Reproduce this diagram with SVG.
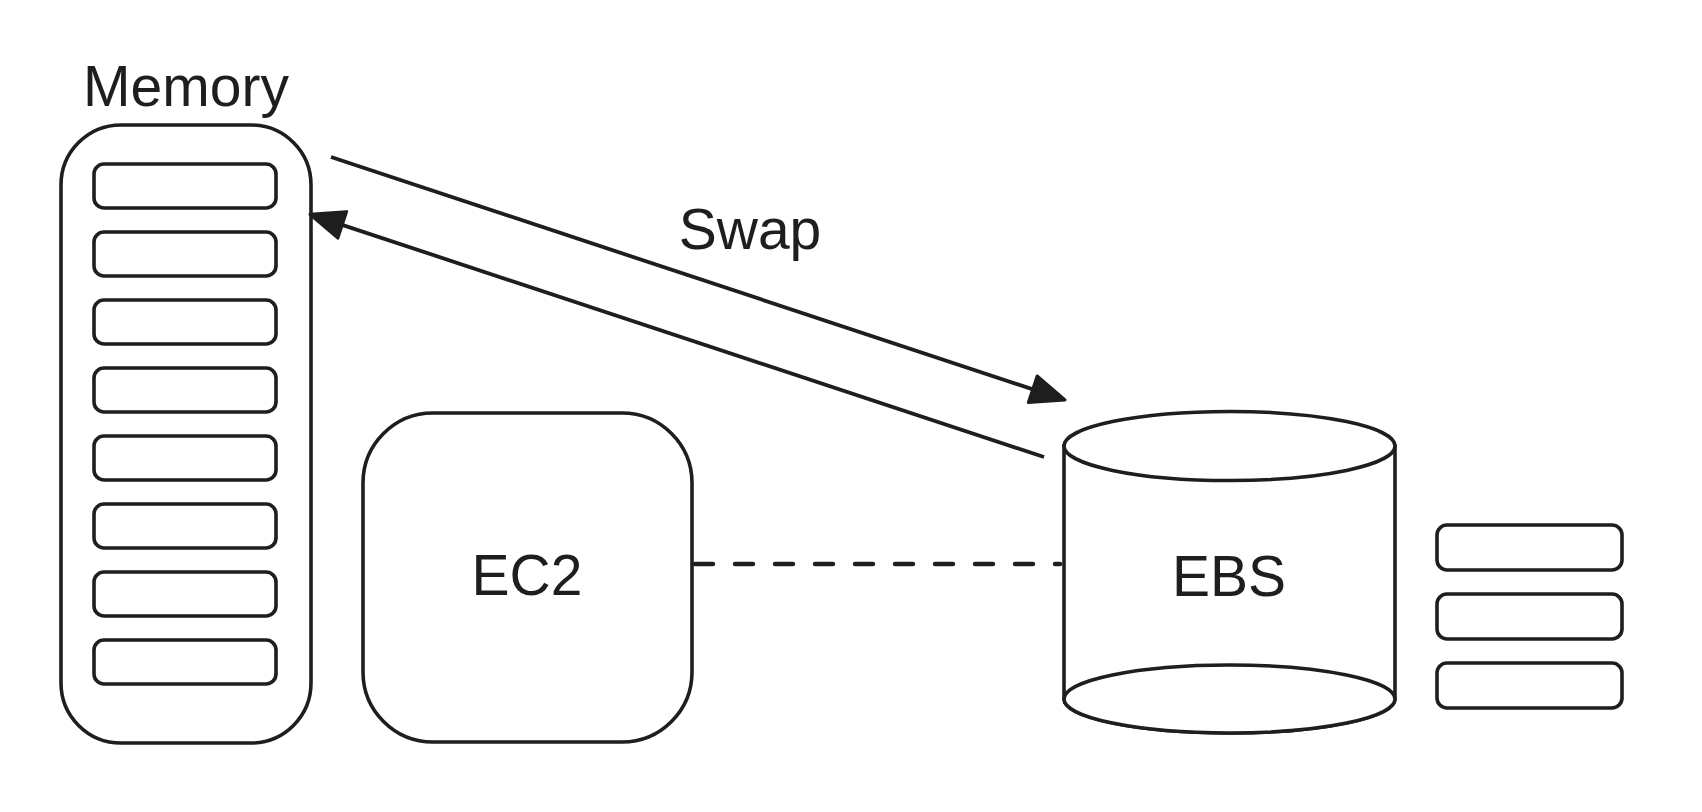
<svg xmlns="http://www.w3.org/2000/svg" width="1702" height="812" viewBox="0 0 1702 812">
<style>
.s{fill:#ffffff;stroke:#1e1e1e;stroke-width:3.6;}
.c{fill:none;stroke:#1e1e1e;stroke-width:3.8;}
.t{font-family:"Liberation Sans",Arial,sans-serif;font-size:57px;fill:#1e1e1e;text-anchor:middle;}
</style>
<defs>
<marker id="ah" markerUnits="userSpaceOnUse" viewBox="0 0 40 34" markerWidth="40" markerHeight="34" refX="3" refY="16" orient="auto">
<path d="M2,2 L36,16 L2,30 Z" fill="#1e1e1e" stroke="#1e1e1e" stroke-width="3" stroke-linejoin="round"/>
</marker>
</defs>
<rect width="1702" height="812" fill="#ffffff"/>
<g id="memory">
<rect class="s" x="61" y="125" width="250" height="618" rx="60"/>
<rect class="s" x="94" y="164" width="182" height="44" rx="10"/>
<rect class="s" x="94" y="232" width="182" height="44" rx="10"/>
<rect class="s" x="94" y="300" width="182" height="44" rx="10"/>
<rect class="s" x="94" y="368" width="182" height="44" rx="10"/>
<rect class="s" x="94" y="436" width="182" height="44" rx="10"/>
<rect class="s" x="94" y="504" width="182" height="44" rx="10"/>
<rect class="s" x="94" y="572" width="182" height="44" rx="10"/>
<rect class="s" x="94" y="640" width="182" height="44" rx="10"/>
<text class="t" x="186" y="106">Memory</text>
</g>
<g id="ec2">
<rect class="s" x="363" y="413" width="329" height="329" rx="70"/>
<text class="t" x="527" y="595">EC2</text>
</g>
<g id="ebs">
<path class="s" d="M1064,446 L1064,699 A165.5,34 0 0 0 1395,699 L1395,446 Z"/>
<ellipse class="s" cx="1229.5" cy="446" rx="165.5" ry="34.5"/>
<ellipse class="s" cx="1229.5" cy="699" rx="165.5" ry="34"/>
<text class="t" x="1229" y="596">EBS</text>
</g>
<g id="blocks">
<rect class="s" x="1437" y="525" width="185" height="45" rx="10"/>
<rect class="s" x="1437" y="594" width="185" height="45" rx="10"/>
<rect class="s" x="1437" y="663" width="185" height="45" rx="10"/>
</g>
<g id="connectors">
<line class="c" x1="331" y1="157" x2="1033.7" y2="389.6" marker-end="url(#ah)"/>
<line class="c" x1="1044" y1="457" x2="341.3" y2="224.6" marker-end="url(#ah)"/>
<line x1="695" y1="564" x2="1060" y2="564" stroke="#1e1e1e" stroke-width="4.5" stroke-linecap="round" stroke-dasharray="18 22"/>
<text class="t" x="750" y="249">Swap</text>
</g>
</svg>
